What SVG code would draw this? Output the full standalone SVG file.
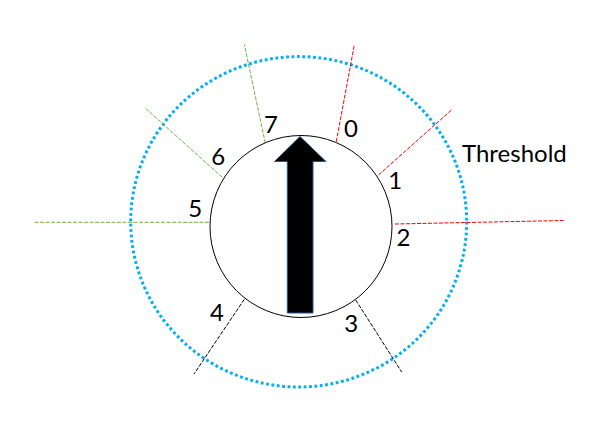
<svg xmlns="http://www.w3.org/2000/svg" width="598" height="435" viewBox="0 0 598 435">
<style>
.lbl{font-family:Lato,"Open Sans","Liberation Sans",sans-serif;font-size:24px;fill:#000;text-anchor:middle}
.red{stroke:#FF0000;stroke-width:1;stroke-dasharray:4 1.5;fill:none}
.grn{stroke:#70AD47;stroke-width:1;stroke-dasharray:4 1.5;fill:none}
.blk{stroke:#000;stroke-width:1;stroke-dasharray:4 1.5;fill:none}
</style>
<rect width="598" height="435" fill="#fff"/>
<g id="threshold-ring">
<ellipse cx="298.7" cy="221.8" rx="168" ry="165.2" fill="none" stroke="#00B0F0" stroke-width="3" stroke-dasharray="2.8 2.6"/>
<text x="462" y="161.7" class="lbl" style="text-anchor:start">Threshold</text>
</g>
<g id="connectors">
<line class="red" x1="336.3" y1="141.7" x2="354.3" y2="45"/>
<line class="red" x1="378.5" y1="175" x2="451.5" y2="110"/>
<line class="red" x1="395" y1="224" x2="563.5" y2="220.5"/>
<line class="blk" x1="355.7" y1="300" x2="401.7" y2="372"/>
<line class="blk" x1="244.3" y1="299.3" x2="194" y2="374"/>
<line class="grn" x1="209" y1="222.3" x2="33.3" y2="222.3"/>
<line class="grn" x1="222.3" y1="177.3" x2="144.3" y2="107.3"/>
<line class="grn" x1="265.3" y1="143.3" x2="244.3" y2="44.3"/>
</g>
<g id="dial">
<circle cx="301" cy="226.5" r="91" fill="#fff" stroke="#000" stroke-width="1"/>
</g>
<g id="arrow">
<polygon points="300,136.5 326,161.5 313,161.5 313,313 287.3,313 287.3,161.5 274.5,161.5" fill="#000" stroke="#2F528F" stroke-width="1"/>
</g>
<g id="labels">
<text class="lbl" x="351" y="136.7">0</text>
<text class="lbl" x="395.2" y="189">1</text>
<text class="lbl" x="403.5" y="246">2</text>
<text class="lbl" x="351.2" y="331.7">3</text>
<text class="lbl" x="217" y="320.7">4</text>
<text class="lbl" x="195.3" y="217.3">5</text>
<text class="lbl" x="218.3" y="165">6</text>
<text class="lbl" x="271" y="132.7">7</text>
</g>
</svg>
